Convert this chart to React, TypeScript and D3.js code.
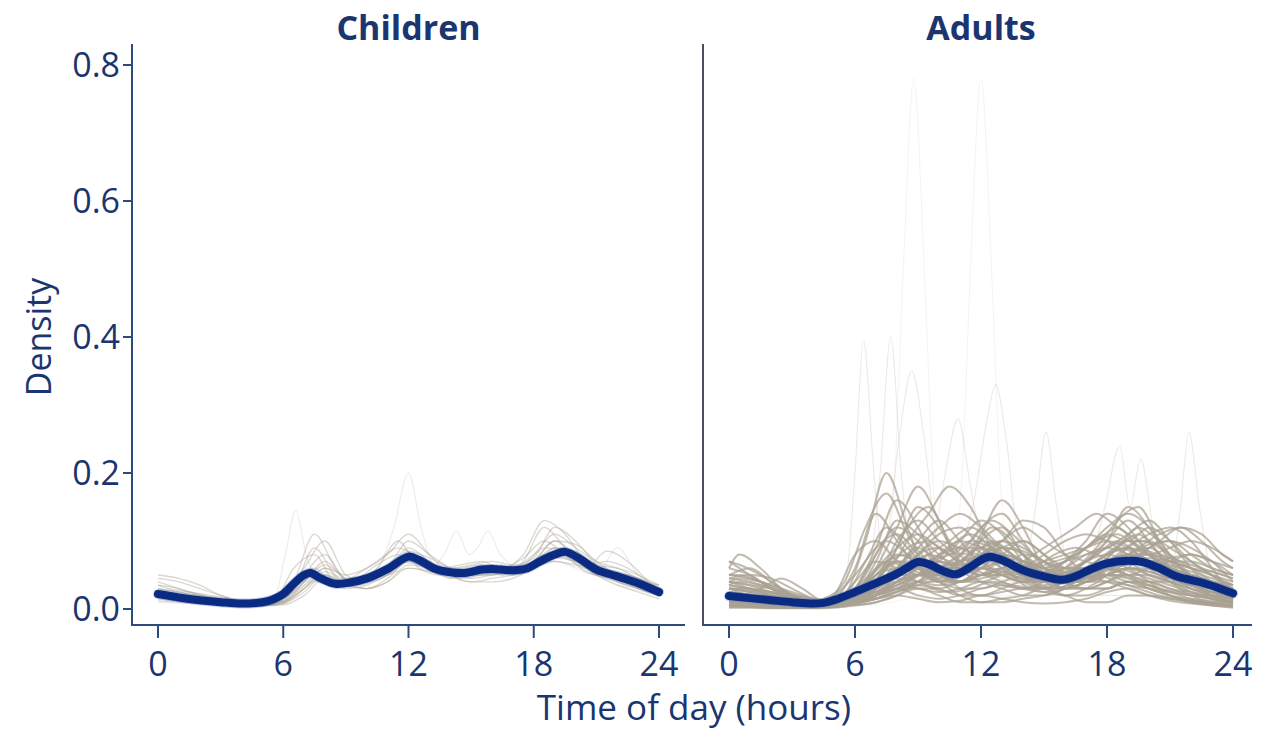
import React from "react";
import * as d3 from "d3";

// ---------- data ----------
const xTicks = [0, 6, 12, 18, 24];
const yTicks = [0, 0.2, 0.4, 0.6, 0.8];
const panelTitles = ["Children", "Adults"];
const hourly = [0,1,2,3,4,5,6,7,8,9,10,11,12,13,14,15,16,17,18,19,20,21,22,23,24];
const halfGrid = [0,0.5,1.5,2.5,3.5,4.5,5.5,6.5,7.5,8.5,9.5,10.5,11.5,12.5,13.5,14.5,15.5,16.5,17.5,18.5,19.5,20.5,21.5,22.5,23.5,24];

// mean curves [hour, density]
const childrenMean: [number, number][] = [
  [0,0.022],[1,0.017],[2,0.013],[3,0.010],[4,0.008],[5,0.010],[5.5,0.014],[6,0.022],[6.5,0.037],[7,0.05],[7.3,0.053],[7.8,0.045],[8.5,0.037],[9.2,0.039],[10,0.045],[11,0.059],[12,0.077],[12.5,0.072],[13.2,0.06],[14,0.054],[14.7,0.053],[15.5,0.058],[16,0.059],[17,0.057],[17.7,0.06],[18.3,0.07],[19,0.08],[19.5,0.084],[20.2,0.074],[21,0.058],[22,0.048],[23,0.038],[24,0.025],
];
const adultsMean: [number, number][] = [
  [0,0.019],[1,0.016],[2,0.013],[3,0.01],[4,0.008],[4.5,0.009],[5,0.013],[6,0.025],[7,0.038],[8,0.052],[8.5,0.061],[9,0.069],[9.5,0.066],[10.2,0.056],[10.8,0.051],[11.4,0.06],[12,0.072],[12.4,0.077],[13,0.072],[14,0.057],[15,0.048],[15.9,0.043],[16.5,0.048],[17.2,0.058],[18,0.067],[19,0.071],[19.7,0.069],[20.5,0.06],[21.3,0.048],[22.5,0.039],[23.3,0.031],[24,0.023],
];

// individual curves, hourly grid
const childrenHourly: number[][] = [
  [0.03,0.025,0.02,0.015,0.01,0.008,0.012,0.06,0.1,0.05,0.04,0.05,0.08,0.07,0.05,0.045,0.05,0.055,0.07,0.1,0.08,0.06,0.05,0.04,0.03],
  [0.045,0.04,0.03,0.02,0.012,0.008,0.01,0.03,0.06,0.035,0.03,0.045,0.07,0.06,0.055,0.06,0.065,0.06,0.08,0.11,0.09,0.07,0.06,0.045,0.03],
  [0.02,0.015,0.012,0.01,0.008,0.006,0.015,0.04,0.07,0.045,0.05,0.06,0.09,0.07,0.05,0.04,0.045,0.05,0.06,0.075,0.07,0.055,0.05,0.04,0.025],
  [0.035,0.03,0.02,0.012,0.008,0.005,0.008,0.025,0.05,0.04,0.045,0.06,0.1,0.08,0.06,0.05,0.05,0.06,0.07,0.09,0.085,0.06,0.04,0.03,0.02],
  [0.015,0.012,0.01,0.008,0.006,0.005,0.006,0.02,0.045,0.03,0.035,0.05,0.075,0.065,0.06,0.065,0.07,0.065,0.075,0.12,0.1,0.065,0.045,0.03,0.02],
  [0.05,0.045,0.035,0.02,0.01,0.006,0.01,0.05,0.08,0.04,0.03,0.04,0.06,0.055,0.05,0.05,0.055,0.055,0.06,0.08,0.07,0.05,0.045,0.04,0.035],
  [0.025,0.02,0.015,0.01,0.007,0.005,0.01,0.035,0.06,0.05,0.06,0.08,0.11,0.08,0.05,0.04,0.04,0.045,0.06,0.07,0.065,0.06,0.055,0.045,0.03],
  [0.02,0.018,0.015,0.012,0.01,0.008,0.012,0.03,0.05,0.035,0.03,0.04,0.065,0.06,0.055,0.06,0.06,0.055,0.07,0.1,0.095,0.07,0.05,0.035,0.022],
  [0.03,0.025,0.018,0.012,0.008,0.006,0.009,0.04,0.065,0.045,0.04,0.055,0.085,0.075,0.06,0.055,0.06,0.06,0.065,0.085,0.08,0.065,0.06,0.05,0.035],
  [0.012,0.01,0.008,0.006,0.005,0.004,0.008,0.03,0.055,0.04,0.045,0.05,0.07,0.06,0.045,0.05,0.055,0.05,0.06,0.09,0.075,0.05,0.035,0.025,0.015],
];
// individual curves, half-hour offset grid
const childrenHalf: number[][] = [
  [0.04,0.035,0.025,0.018,0.012,0.008,0.007,0.03,0.09,0.05,0.04,0.06,0.1,0.06,0.05,0.055,0.06,0.05,0.07,0.12,0.09,0.06,0.05,0.04,0.03,0.025],
  [0.025,0.022,0.018,0.014,0.01,0.008,0.01,0.06,0.08,0.04,0.045,0.065,0.08,0.07,0.06,0.05,0.055,0.06,0.065,0.09,0.085,0.065,0.07,0.06,0.04,0.03],
  [0.018,0.016,0.013,0.01,0.008,0.006,0.012,0.045,0.06,0.035,0.05,0.07,0.09,0.075,0.055,0.06,0.065,0.06,0.075,0.1,0.08,0.055,0.045,0.035,0.025,0.02],
  [0.035,0.03,0.025,0.02,0.015,0.01,0.01,0.025,0.05,0.04,0.04,0.05,0.07,0.065,0.06,0.065,0.07,0.06,0.08,0.13,0.11,0.07,0.055,0.05,0.04,0.035],
  [0.02,0.018,0.015,0.01,0.007,0.005,0.008,0.04,0.11,0.06,0.035,0.045,0.075,0.065,0.05,0.045,0.05,0.055,0.06,0.08,0.075,0.06,0.085,0.07,0.04,0.025],
];
// faint sharp individual curves [hour, density]
const childrenSpikes: [number, number][][] = [
  [[0,0.01],[4,0.006],[5.5,0.01],[6.1,0.08],[6.6,0.145],[7.1,0.08],[7.8,0.04],[9,0.035],[11,0.05],[12,0.06],[14,0.05],[17,0.05],[19,0.07],[21,0.05],[24,0.02]],
  [[0,0.02],[4,0.008],[6,0.015],[7.5,0.04],[9,0.04],[10.5,0.06],[11.3,0.12],[12,0.2],[12.6,0.12],[13.3,0.06],[15,0.05],[18,0.06],[19.5,0.08],[21,0.05],[24,0.02]],
  [[0,0.015],[5,0.005],[7,0.04],[9,0.04],[11,0.05],[12,0.06],[13,0.06],[13.7,0.08],[14.3,0.115],[14.9,0.08],[15.3,0.09],[15.8,0.115],[16.4,0.08],[17.5,0.06],[19,0.07],[21,0.05],[22,0.09],[23,0.05],[24,0.02]],
];

const adultsHourly: number[][] = [
  [0.02,0.015,0.01,0.008,0.006,0.01,0.03,0.08,0.12,0.1,0.06,0.05,0.08,0.07,0.05,0.04,0.04,0.05,0.07,0.08,0.06,0.04,0.03,0.02,0.015],
  [0.04,0.03,0.02,0.01,0.005,0.004,0.01,0.03,0.06,0.09,0.07,0.06,0.1,0.12,0.08,0.05,0.03,0.04,0.06,0.07,0.07,0.06,0.05,0.04,0.03],
  [0.01,0.008,0.006,0.004,0.003,0.005,0.02,0.05,0.07,0.06,0.04,0.05,0.06,0.05,0.04,0.04,0.05,0.07,0.1,0.13,0.1,0.06,0.04,0.02,0.01],
  [0.06,0.05,0.03,0.015,0.008,0.005,0.008,0.02,0.04,0.06,0.08,0.09,0.07,0.05,0.04,0.05,0.06,0.06,0.05,0.05,0.06,0.07,0.08,0.07,0.06],
  [0.015,0.012,0.01,0.008,0.006,0.015,0.06,0.14,0.1,0.06,0.04,0.04,0.05,0.06,0.05,0.03,0.03,0.04,0.05,0.06,0.06,0.05,0.04,0.03,0.02],
  [0.03,0.02,0.015,0.01,0.008,0.008,0.015,0.03,0.05,0.08,0.11,0.12,0.09,0.06,0.04,0.03,0.04,0.05,0.06,0.05,0.04,0.04,0.05,0.04,0.03],
  [0.005,0.004,0.003,0.002,0.002,0.003,0.01,0.04,0.09,0.15,0.12,0.07,0.05,0.06,0.08,0.07,0.04,0.03,0.03,0.04,0.03,0.02,0.01,0.008,0.005],
  [0.02,0.02,0.015,0.01,0.008,0.01,0.02,0.04,0.05,0.05,0.06,0.08,0.12,0.14,0.1,0.06,0.04,0.04,0.05,0.06,0.05,0.04,0.03,0.025,0.02],
  [0.025,0.02,0.015,0.01,0.006,0.005,0.008,0.015,0.03,0.04,0.04,0.05,0.06,0.05,0.04,0.05,0.07,0.1,0.14,0.12,0.08,0.06,0.05,0.04,0.03],
  [0.05,0.06,0.04,0.02,0.01,0.006,0.01,0.04,0.07,0.07,0.05,0.04,0.05,0.07,0.06,0.04,0.03,0.03,0.04,0.06,0.09,0.1,0.08,0.06,0.05],
  [0.01,0.008,0.006,0.005,0.005,0.02,0.08,0.1,0.07,0.05,0.05,0.07,0.09,0.07,0.05,0.04,0.05,0.06,0.05,0.04,0.03,0.02,0.015,0.012,0.01],
  [0.03,0.025,0.02,0.015,0.01,0.008,0.01,0.02,0.03,0.02,0.015,0.02,0.03,0.035,0.03,0.04,0.06,0.09,0.11,0.1,0.12,0.1,0.07,0.05,0.03],
  [0.015,0.01,0.008,0.006,0.005,0.006,0.012,0.03,0.06,0.1,0.13,0.1,0.07,0.08,0.1,0.08,0.05,0.04,0.04,0.035,0.03,0.025,0.02,0.018,0.015],
  [0.02,0.018,0.015,0.012,0.01,0.01,0.02,0.05,0.08,0.07,0.06,0.06,0.07,0.09,0.1,0.08,0.06,0.05,0.06,0.08,0.09,0.07,0.05,0.03,0.02],
  [0.07,0.05,0.03,0.015,0.008,0.005,0.006,0.01,0.02,0.04,0.06,0.06,0.05,0.06,0.07,0.06,0.05,0.06,0.08,0.09,0.08,0.09,0.1,0.09,0.07],
  [0.01,0.01,0.008,0.006,0.004,0.004,0.008,0.02,0.05,0.08,0.09,0.07,0.11,0.16,0.12,0.06,0.04,0.03,0.03,0.04,0.04,0.03,0.02,0.015,0.01],
  [0.03,0.03,0.025,0.02,0.015,0.012,0.015,0.025,0.04,0.05,0.05,0.04,0.04,0.05,0.06,0.07,0.08,0.09,0.1,0.09,0.07,0.06,0.05,0.04,0.03],
  [0.004,0.003,0.002,0.002,0.002,0.004,0.015,0.06,0.12,0.18,0.13,0.06,0.04,0.03,0.02,0.02,0.03,0.04,0.06,0.05,0.03,0.02,0.01,0.006,0.004],
  [0.035,0.03,0.02,0.012,0.008,0.006,0.01,0.02,0.04,0.05,0.07,0.1,0.13,0.11,0.07,0.05,0.04,0.05,0.07,0.08,0.07,0.05,0.04,0.04,0.035],
  [0.02,0.015,0.012,0.01,0.008,0.01,0.025,0.05,0.06,0.05,0.04,0.03,0.03,0.04,0.05,0.06,0.07,0.08,0.09,0.11,0.13,0.1,0.06,0.03,0.02],
  [0.045,0.04,0.03,0.02,0.01,0.008,0.015,0.035,0.05,0.06,0.05,0.04,0.06,0.08,0.07,0.05,0.04,0.04,0.05,0.07,0.08,0.07,0.06,0.055,0.045],
  [0.008,0.006,0.005,0.004,0.004,0.008,0.03,0.09,0.16,0.12,0.06,0.03,0.02,0.03,0.04,0.03,0.02,0.03,0.05,0.08,0.07,0.04,0.02,0.01,0.008],
  [0.015,0.012,0.01,0.008,0.006,0.006,0.01,0.02,0.035,0.05,0.06,0.07,0.08,0.1,0.12,0.1,0.08,0.07,0.06,0.05,0.04,0.03,0.025,0.02,0.015],
  [0.025,0.02,0.015,0.012,0.01,0.01,0.012,0.02,0.03,0.04,0.05,0.07,0.09,0.08,0.06,0.05,0.05,0.07,0.1,0.15,0.12,0.07,0.04,0.03,0.025],
  [0.002,0.002,0.001,0.001,0.001,0.002,0.005,0.01,0.02,0.03,0.02,0.01,0.01,0.015,0.02,0.03,0.02,0.01,0.01,0.02,0.02,0.015,0.01,0.005,0.002],
  [0.01,0.008,0.006,0.004,0.003,0.004,0.008,0.015,0.02,0.015,0.01,0.012,0.02,0.015,0.01,0.008,0.01,0.015,0.025,0.03,0.02,0.015,0.012,0.01,0.01],
  [0.03,0.025,0.02,0.015,0.01,0.01,0.03,0.06,0.09,0.11,0.09,0.07,0.06,0.07,0.06,0.05,0.06,0.08,0.09,0.08,0.06,0.05,0.04,0.035,0.03],
  [0.012,0.01,0.008,0.006,0.005,0.006,0.01,0.025,0.04,0.05,0.045,0.04,0.05,0.055,0.05,0.045,0.04,0.045,0.05,0.06,0.055,0.045,0.035,0.02,0.012],
  [0.02,0.016,0.012,0.01,0.008,0.008,0.012,0.03,0.045,0.04,0.035,0.04,0.06,0.08,0.07,0.05,0.045,0.05,0.06,0.07,0.075,0.07,0.06,0.04,0.02],
  [0.005,0.004,0.003,0.003,0.003,0.005,0.015,0.035,0.04,0.03,0.025,0.03,0.04,0.035,0.03,0.035,0.04,0.045,0.05,0.045,0.035,0.025,0.015,0.008,0.005],
  [0.04,0.035,0.025,0.015,0.01,0.008,0.012,0.04,0.1,0.13,0.1,0.08,0.09,0.1,0.08,0.06,0.05,0.06,0.08,0.1,0.1,0.08,0.06,0.05,0.04],
  [0.015,0.012,0.01,0.008,0.006,0.01,0.04,0.07,0.06,0.04,0.03,0.04,0.05,0.04,0.03,0.025,0.03,0.04,0.06,0.09,0.11,0.12,0.1,0.06,0.015],
  [0.025,0.02,0.015,0.01,0.008,0.008,0.01,0.02,0.03,0.05,0.08,0.1,0.09,0.07,0.05,0.04,0.05,0.07,0.08,0.07,0.05,0.04,0.035,0.03,0.025],
  [0.008,0.006,0.005,0.004,0.004,0.006,0.02,0.07,0.13,0.11,0.08,0.06,0.07,0.09,0.08,0.05,0.03,0.03,0.04,0.05,0.05,0.04,0.025,0.015,0.008],
  [0.035,0.03,0.025,0.018,0.012,0.008,0.01,0.015,0.025,0.035,0.045,0.06,0.08,0.09,0.085,0.07,0.06,0.06,0.07,0.08,0.08,0.07,0.06,0.05,0.035],
  [0.01,0.008,0.006,0.005,0.004,0.004,0.008,0.02,0.03,0.035,0.03,0.02,0.02,0.025,0.03,0.025,0.02,0.02,0.03,0.04,0.035,0.025,0.02,0.015,0.01],
  [0.05,0.045,0.035,0.02,0.01,0.006,0.008,0.02,0.04,0.06,0.07,0.06,0.05,0.05,0.06,0.08,0.1,0.11,0.1,0.08,0.07,0.07,0.07,0.06,0.05],
  [0.02,0.015,0.012,0.01,0.01,0.02,0.05,0.09,0.11,0.08,0.05,0.04,0.045,0.05,0.045,0.04,0.045,0.06,0.08,0.09,0.08,0.06,0.04,0.03,0.02],
  [0.003,0.003,0.002,0.002,0.002,0.003,0.008,0.02,0.05,0.08,0.1,0.09,0.08,0.1,0.13,0.12,0.08,0.05,0.04,0.03,0.02,0.012,0.008,0.005,0.003],
  [0.03,0.028,0.024,0.018,0.012,0.01,0.012,0.025,0.05,0.07,0.07,0.065,0.07,0.075,0.07,0.06,0.055,0.06,0.07,0.075,0.07,0.06,0.05,0.04,0.03],
  [0.015,0.012,0.01,0.008,0.006,0.005,0.008,0.015,0.025,0.04,0.06,0.08,0.1,0.09,0.07,0.06,0.07,0.09,0.12,0.14,0.12,0.08,0.05,0.03,0.015],
  [0.045,0.05,0.045,0.03,0.015,0.008,0.01,0.03,0.06,0.07,0.06,0.05,0.06,0.07,0.065,0.055,0.05,0.055,0.06,0.065,0.07,0.075,0.08,0.07,0.05],
  [0.006,0.005,0.004,0.003,0.003,0.004,0.01,0.03,0.06,0.06,0.04,0.02,0.01,0.01,0.015,0.02,0.03,0.05,0.07,0.06,0.04,0.02,0.012,0.008,0.006],
  [0.02,0.018,0.015,0.012,0.01,0.01,0.015,0.035,0.06,0.09,0.12,0.14,0.12,0.09,0.07,0.05,0.04,0.04,0.05,0.06,0.055,0.045,0.035,0.025,0.02],
  [0.04,0.035,0.03,0.022,0.015,0.01,0.012,0.02,0.035,0.05,0.06,0.07,0.075,0.07,0.06,0.05,0.05,0.055,0.065,0.08,0.095,0.1,0.09,0.07,0.04],
  [0.01,0.009,0.008,0.006,0.005,0.007,0.02,0.05,0.07,0.06,0.05,0.06,0.08,0.1,0.09,0.07,0.06,0.07,0.09,0.1,0.08,0.05,0.03,0.02,0.01],
];
const adultsHalf: number[][] = [
  [0.06,0.08,0.06,0.03,0.012,0.006,0.01,0.05,0.1,0.08,0.05,0.06,0.09,0.07,0.05,0.04,0.05,0.06,0.08,0.1,0.08,0.06,0.04,0.03,0.02,0.02],
  [0.02,0.02,0.03,0.045,0.03,0.012,0.02,0.07,0.12,0.09,0.06,0.05,0.07,0.1,0.08,0.05,0.04,0.04,0.06,0.09,0.11,0.08,0.05,0.04,0.03,0.025],
  [0.03,0.028,0.025,0.02,0.015,0.01,0.015,0.03,0.06,0.12,0.15,0.1,0.07,0.09,0.07,0.05,0.06,0.08,0.1,0.12,0.09,0.07,0.06,0.05,0.04,0.035],
  [0.01,0.009,0.007,0.005,0.004,0.004,0.02,0.1,0.2,0.12,0.05,0.04,0.06,0.08,0.06,0.04,0.03,0.04,0.05,0.06,0.05,0.04,0.03,0.02,0.012,0.01],
  [0.04,0.045,0.04,0.03,0.02,0.01,0.012,0.025,0.045,0.06,0.08,0.1,0.12,0.1,0.07,0.06,0.07,0.08,0.1,0.11,0.09,0.08,0.07,0.06,0.05,0.045],
  [0.015,0.013,0.01,0.008,0.006,0.005,0.008,0.02,0.04,0.06,0.08,0.07,0.06,0.05,0.06,0.08,0.1,0.12,0.14,0.12,0.1,0.07,0.05,0.03,0.02,0.015],
  [0.005,0.005,0.004,0.003,0.003,0.003,0.006,0.02,0.05,0.1,0.14,0.18,0.15,0.09,0.05,0.03,0.03,0.04,0.05,0.04,0.03,0.02,0.015,0.01,0.006,0.005],
  [0.05,0.05,0.04,0.025,0.015,0.01,0.015,0.04,0.07,0.06,0.05,0.05,0.06,0.06,0.05,0.06,0.08,0.09,0.08,0.07,0.08,0.1,0.12,0.1,0.07,0.06],
  [0.02,0.018,0.015,0.012,0.01,0.015,0.04,0.12,0.17,0.11,0.07,0.06,0.08,0.12,0.1,0.06,0.04,0.04,0.05,0.05,0.04,0.03,0.025,0.02,0.02,0.02],
  [0.008,0.008,0.006,0.005,0.004,0.004,0.006,0.012,0.02,0.03,0.03,0.025,0.03,0.04,0.035,0.03,0.035,0.045,0.06,0.08,0.1,0.09,0.06,0.03,0.012,0.008],
  [0.035,0.04,0.035,0.025,0.015,0.01,0.012,0.03,0.06,0.09,0.1,0.08,0.1,0.13,0.11,0.08,0.06,0.05,0.06,0.09,0.12,0.1,0.08,0.06,0.04,0.035],
  [0.012,0.01,0.008,0.006,0.004,0.004,0.01,0.04,0.07,0.08,0.06,0.05,0.06,0.07,0.06,0.05,0.045,0.05,0.07,0.09,0.08,0.06,0.04,0.03,0.02,0.012],
  [0.025,0.022,0.02,0.015,0.01,0.008,0.01,0.02,0.03,0.04,0.06,0.09,0.11,0.09,0.06,0.04,0.04,0.06,0.09,0.13,0.15,0.1,0.06,0.04,0.03,0.025],
  [0.07,0.065,0.05,0.03,0.015,0.008,0.008,0.015,0.03,0.05,0.07,0.08,0.1,0.09,0.07,0.06,0.05,0.05,0.06,0.07,0.09,0.11,0.12,0.11,0.08,0.07],
];
const adultsSpikes: [number, number][][] = [
  [[0,0.005],[5,0.003],[7,0.02],[7.8,0.15],[8.3,0.5],[8.8,0.78],[9.3,0.5],[9.8,0.15],[10.5,0.03],[12,0.02],[14,0.02],[18,0.02],[24,0.005]],
  [[0,0.005],[6,0.005],[9,0.02],[10.5,0.04],[11.1,0.2],[11.5,0.5],[12.0,0.78],[12.5,0.5],[12.9,0.2],[13.5,0.04],[15,0.02],[20,0.02],[24,0.005]],
  [[0,0.01],[4.5,0.005],[5.5,0.03],[6.0,0.2],[6.4,0.395],[6.9,0.2],[7.4,0.06],[8.5,0.04],[10,0.03],[12,0.05],[15,0.03],[19,0.04],[24,0.01]],
  [[0,0.01],[5,0.005],[6.5,0.03],[7.2,0.2],[7.7,0.4],[8.2,0.2],[8.8,0.06],[10,0.04],[12,0.06],[14,0.04],[18,0.05],[24,0.01]],
  [[0,0.02],[5,0.008],[6.5,0.04],[7.5,0.1],[8.1,0.25],[8.7,0.35],[9.3,0.25],[9.9,0.1],[11,0.05],[12.5,0.06],[15,0.04],[19,0.06],[24,0.02]],
  [[0,0.015],[5,0.006],[7,0.04],[9,0.06],[10.5,0.07],[11.6,0.15],[12.3,0.28],[12.7,0.33],[13.2,0.25],[13.8,0.1],[15,0.05],[18,0.06],[24,0.015]],
  [[0,0.01],[6,0.01],[8,0.04],[9.6,0.08],[10.3,0.2],[10.9,0.28],[11.5,0.18],[12.2,0.08],[14,0.05],[14.6,0.15],[15.1,0.26],[15.6,0.15],[16.3,0.05],[19,0.05],[24,0.01]],
  [[0,0.015],[6,0.01],[9,0.04],[12,0.06],[15,0.04],[17,0.06],[17.9,0.15],[18.6,0.24],[19.1,0.15],[19.6,0.22],[20.2,0.12],[21,0.05],[21.5,0.15],[21.9,0.26],[22.4,0.15],[23,0.05],[24,0.015]],
];

// ---------- component ----------
const W = 1271;
const H = 732;
const TEXT = "#1b3570";
const AXIS = "#2f4a7c";
const GRAY = "#a9a192";
const NAVY = "#0b2a82";
const FONT = "'Open Sans', 'Noto Sans', sans-serif";

const y = d3.scaleLinear().domain([0, 0.8]).range([609, 65]);
const panels = [
  { title: panelTitles[0], x: d3.scaleLinear().domain([0, 24]).range([158, 659]), axisX: 132, axisEnd: 685, showY: true,
    hourly: childrenHourly, half: childrenHalf, spikes: childrenSpikes, mean: childrenMean, op: 0.42, sw: 1.3, spikeOp: 0.2 },
  { title: panelTitles[1], x: d3.scaleLinear().domain([0, 24]).range([729, 1233]), axisX: 703, axisEnd: 1252, showY: false,
    hourly: adultsHourly, half: adultsHalf, spikes: adultsSpikes, mean: adultsMean, op: 0.72, sw: 2, spikeOp: 0.22 },
];

export default function App() {
  return (
    <svg width={W} height={H} style={{ position: "absolute", left: 0, top: 0, background: "#fff" }} fontFamily={FONT}>
      {panels.map((p, pi) => {
        const line = d3.line<[number, number]>().x(d => p.x(d[0])).y(d => y(d[1])).curve(d3.curveMonotoneX);
        const meanLine = d3.line<[number, number]>().x(d => p.x(d[0])).y(d => y(d[1])).curve(d3.curveCatmullRom.alpha(0.5));
        const series: [number, number][][] = [
          ...p.hourly.map(vals => vals.map((v, i) => [hourly[i], v] as [number, number])),
          ...p.half.map(vals => vals.map((v, i) => [halfGrid[i], v] as [number, number])),
        ];
        const cx = (p.x(0) + p.x(24)) / 2;
        return (
          <g key={pi}>
            <text x={cx} y={40} textAnchor="middle" fontSize={34} fontWeight={700} fill={TEXT}>{p.title}</text>
            {p.spikes.map((s, i) => {
              const peak = d3.max(s, d => d[1]) || 0;
              return (
                <path key={"s" + i} d={line(s) || ""} fill="none" stroke={GRAY} strokeWidth={1.1}
                  strokeOpacity={peak > 0.5 ? p.spikeOp * 0.55 : p.spikeOp} />
              );
            })}
            {series.map((s, i) => (
              <path key={"l" + i} d={line(s) || ""} fill="none" stroke={GRAY} strokeWidth={p.sw} strokeOpacity={p.op} />
            ))}
            <path d={meanLine(p.mean) || ""} fill="none" stroke="#5b82c9" strokeWidth={10} strokeOpacity={0.4} strokeLinecap="round" />
            <path d={meanLine(p.mean) || ""} fill="none" stroke={NAVY} strokeWidth={8} strokeLinecap="round" />
            <line x1={p.axisX} x2={p.axisX} y1={44} y2={626} stroke={pi === 0 ? AXIS : "#4a4f5c"} strokeWidth={2} />
            <line x1={p.axisX} x2={p.axisEnd} y1={625} y2={625} stroke={AXIS} strokeWidth={2} />
            {xTicks.map(t => (
              <g key={"x" + t}>
                <line x1={p.x(t)} x2={p.x(t)} y1={625} y2={638} stroke={AXIS} strokeWidth={2} />
                <text x={p.x(t)} y={676} textAnchor="middle" fontSize={34} fill={TEXT}>{t}</text>
              </g>
            ))}
            {p.showY && yTicks.map(t => (
              <g key={"y" + t}>
                <line x1={p.axisX - 9} x2={p.axisX} y1={y(t)} y2={y(t)} stroke={AXIS} strokeWidth={2} />
                <text x={p.axisX - 12} y={y(t)} dy="0.36em" textAnchor="end" fontSize={34} fill={TEXT}>{t.toFixed(1)}</text>
              </g>
            ))}
          </g>
        );
      })}
      <text x={694} y={720} textAnchor="middle" fontSize={35} fill={TEXT}>Time of day (hours)</text>
      <text transform="translate(51,337) rotate(-90)" textAnchor="middle" fontSize={34} fill={TEXT}>Density</text>
    </svg>
  );
}
